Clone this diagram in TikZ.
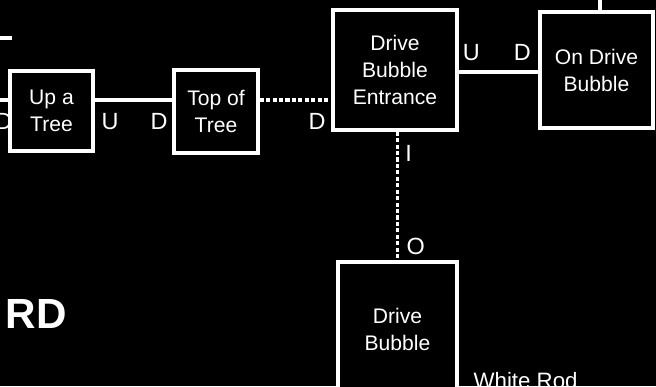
\documentclass[tikz,border=0pt]{standalone}
\usepackage{fontspec}
\setmainfont{Liberation Sans}
\usepackage{tikz}
\usetikzlibrary{arrows}

\begin{document}
\begin{tikzpicture}[x=0.03cm,y=-0.03cm,line width=2.8pt,white,font=\fontsize{18}{23}\selectfont]
		\tikzstyle{room}=[draw=white,fill=black,text=white,align=center,inner sep=0pt]
		\tikzstyle{dotted path}=[dash pattern=on 3.5pt off 2pt]
		\tikzstyle{every node}+=[text=white]
		\tikzstyle{exit}=[font=\fontsize{20}{24}\selectfont]

		\useasboundingbox (0,0) rectangle (656,386);
		\fill[black] (0,0) rectangle (656,386);
		\clip (0,0) rectangle (656,386);

		\coordinate (rowA) at (0,100);
		\coordinate (stubW) at (0,38);
		\coordinate (stubE) at (12,38);
		\coordinate (northend) at (600,0);

		\node[room,minimum width=2.49cm,minimum height=2.4cm] (uptree) at (51.5,111) {Up a\\Tree};
		\node[room,minimum width=2.52cm,minimum height=2.49cm] (toptree) at (216,111.5) {Top of\\Tree};
		\node[room,minimum width=3.72cm,minimum height=3.6cm] (entrance) at (395,70) {Drive\\Bubble\\Entrance};
		\node[room,minimum width=3.39cm,minimum height=3.48cm] (ondrive) at (596.5,70) {On Drive\\Bubble};
		\node[room,minimum width=3.57cm,minimum height=4.02cm] (bubble) at (397.5,329) {Drive\\Bubble};

		\path (uptree.east |- rowA) edge node[exit,pos=0.2,below=7pt] {U} node[exit,pos=0.83,below=7pt] {D} (toptree.west |- rowA)
			 (toptree.east |- rowA) edge[dotted path] node[exit,pos=0.8,below=7pt] {D} (entrance.west |- rowA)
			 ([yshift=-0.06cm]entrance.east) edge node[exit,pos=0.16,above=5pt] {U} node[exit,pos=0.8,above=5pt] {D} ([yshift=-0.06cm]ondrive.west)
			 (entrance.south -| bubble.north) edge[dotted path] node[exit,pos=0.17,right=2pt] {I} node[exit,pos=0.89,right=3pt] {O} (bubble.north)
			 (uptree.west |- rowA) edge node[exit,pos=0.55,below=7pt] {D} (rowA)
			 (ondrive.north -| northend) edge (northend)
			 (stubW) edge (stubE);

		\node[anchor=west,inner sep=0pt,font=\fontsize{36}{40}\selectfont\bfseries] (rd) at (4,314) {RD};
		\node[anchor=base west,inner sep=0pt,font=\fontsize{19}{23}\selectfont] (whiterod) at (472,388) {White Rod};

	\end{tikzpicture}
\end{document}
